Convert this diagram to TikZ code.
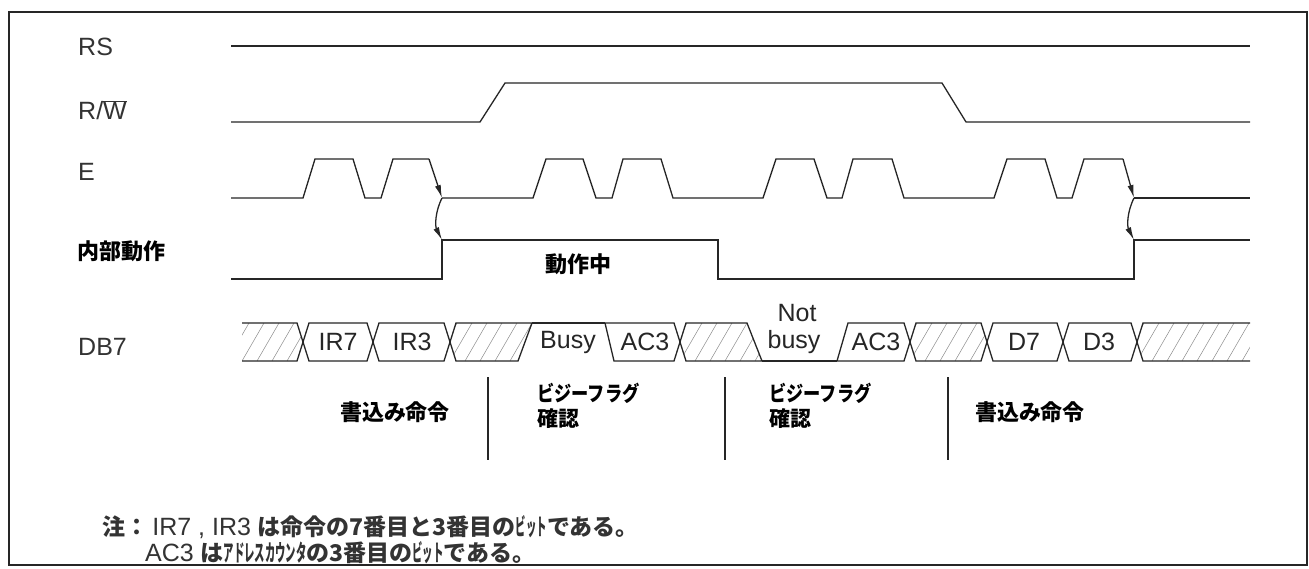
\documentclass[tikz,border=0pt]{standalone}
\usepackage{fontspec}
\setmainfont{Liberation Sans}
\newfontfamily\jp{Noto Sans CJK JP}[RawFeature=+palt]
\newfontfamily\jpw{Noto Sans CJK JP}
\newfontfamily\jpn{Noto Sans CJK JP}[FakeStretch=0.45]
\newfontfamily\jpm{Noto Sans CJK JP}[FakeStretch=0.82]
\newcommand\hkana[1]{{\jpn\bfseries #1}}
\newcommand\mkana[1]{{\jpm\bfseries #1}}
\newcommand\jnote[1]{{\jpw\bfseries\fontsize{23}{27}\selectfont #1}}
\usetikzlibrary{arrows.meta}
\newcommand\hatchin[2]{%
  \begin{scope}
    \clip #1;
    \foreach \k in {-3,...,9} \draw[hatchline] ({#2+15*\k},361) -- ++(22,-38);
  \end{scope}}
\begin{document}
\begin{tikzpicture}[x=1pt,y=-1pt,
  wave/.style={line width=1.3pt, draw=black!85, line join=miter},
  hatchline/.style={line width=0.5pt, draw=black!45},
  lbl/.style={anchor=west, inner sep=0, font=\fontsize{25}{29}\selectfont, text=black!80},
  jlbl/.style={inner sep=0, font=\jp\bfseries\fontsize{22}{26}\selectfont},
  bustext/.style={inner sep=0, font=\fontsize{25}{29}\selectfont, text=black!85},
  sig/.style={wave, -{Latex[length=13pt,width=6pt]}},
  divider/.style={line width=1.2pt, draw=black!85},
  note/.style={anchor=west, inner sep=0, font=\fontsize{25}{29}\selectfont, text=black!80}
]
\useasboundingbox (0,0) rectangle (1309,569);
\fill[white] (0,0) rectangle (1309,569);
\draw[line width=1.2pt, draw=black!85] (9,12) rectangle (1307,565);

% signal labels
\node[lbl] (lRS) at (78,47) {RS};
\node[lbl] (lRW) at (78,110) {R/$\overline{\mbox{W}}$};
\node[lbl] (lE) at (78,172) {E};
\node[jlbl, anchor=west] (lInt) at (77,251) {内部動作};
\node[lbl] (lDB) at (78,347) {DB7};

% RS
\draw[wave] (231,46) -- (1250,46);
% R/W
\draw[wave] (231,122) -- (480,122) -- (505,83) -- (942,83) -- (966,122) -- (1250,122);

% E
\coordinate (ea) at (429,159);
\coordinate (e1) at (442,198);
\coordinate (eb) at (1123,159);
\coordinate (e2) at (1134,198);
\draw[wave] (231,198) -- (303,198) -- (315,159) -- (353,159) -- (365,198) -- (381,198) -- (393,159) -- (ea);
\draw[sig] (ea) -- (e1);
\draw[wave] (e1) -- (533,198) -- (546,159) -- (583,159) -- (596,198) -- (612,198) -- (623,159) -- (661,159) -- (673,198)
  -- (763,198) -- (776,159) -- (814,159) -- (827,198) -- (842,198) -- (853,159) -- (892,159) -- (904,198)
  -- (994,198) -- (1007,159) -- (1045,159) -- (1057,198) -- (1072,198) -- (1084,159) -- (eb);
\draw[sig] (eb) -- (e2);
\draw[wave] (e2) -- (1250,198);

% internal operation
\coordinate (i1) at (442,240);
\coordinate (i2) at (1134,240);
\draw[wave] (231,279) -- (442,279) -- (i1) -- (718,240) -- (718,279) -- (1134,279) -- (i2) -- (1250,240);
\draw[sig] (e1) .. controls (435,212) and (435,226) .. (i1);
\draw[sig] (e2) .. controls (1127,212) and (1127,226) .. (i2);
\node[jlbl] (busyop) at (578,264) {動作中};

% DB7 bus
\hatchin{(242,323) -- (297,323) -- (303,342) -- (297,361) -- (242,361) -- cycle}{242}
\draw[wave] (242,323) -- (297,323) -- (303,342) -- (297,361) -- (242,361);
\draw[wave] (303,342) -- (309,323) -- (367,323) -- (373,342) -- (367,361) -- (309,361) -- cycle;
\draw[wave] (373,342) -- (379,323) -- (444,323) -- (450,342) -- (444,361) -- (379,361) -- cycle;
\hatchin{(450,342) -- (456,323) -- (532,323) -- (518,361) -- (456,361) -- cycle}{450}
\draw[wave] (450,342) -- (456,323) -- (532,323) -- (518,361) -- (456,361) -- cycle;
\draw[wave] (532,323) -- (605,323);
\draw[wave] (605,323) -- (674,323) -- (680,342) -- (674,361) -- (614,361) -- cycle;
\hatchin{(680,342) -- (686,323) -- (747,323) -- (762,361) -- (686,361) -- cycle}{680}
\draw[wave] (680,342) -- (686,323) -- (747,323) -- (762,361) -- (686,361) -- cycle;
\draw[wave] (762,361) -- (837,361);
\draw[wave] (837,361) -- (848,323) -- (904,323) -- (910,342) -- (904,361) -- cycle;
\hatchin{(910,342) -- (916,323) -- (981,323) -- (987,342) -- (981,361) -- (916,361) -- cycle}{910}
\draw[wave] (910,342) -- (916,323) -- (981,323) -- (987,342) -- (981,361) -- (916,361) -- cycle;
\draw[wave] (987,342) -- (993,323) -- (1057,323) -- (1063,342) -- (1057,361) -- (993,361) -- cycle;
\draw[wave] (1063,342) -- (1069,323) -- (1131,323) -- (1137,342) -- (1131,361) -- (1069,361) -- cycle;
\hatchin{(1137,342) -- (1143,323) -- (1250,323) -- (1250,361) -- (1143,361) -- cycle}{1137}
\draw[wave] (1250,323) -- (1143,323) -- (1137,342) -- (1143,361) -- (1250,361);

\node[bustext] (tIR7) at (338,342) {IR7};
\node[bustext] (tIR3) at (412,342) {IR3};
\node[bustext] (tBusy) at (568,342) {Busy};
\node[bustext] (tAC3a) at (645,342) {AC3};
\node[bustext] (tNot) at (797,313) {Not};
\node[bustext] (tbusy) at (794,342) {busy};
\node[bustext] (tAC3b) at (876,342) {AC3};
\node[bustext] (tD7) at (1024,342) {D7};
\node[bustext] (tD3) at (1099,342) {D3};

% phase labels
\coordinate (d1a) at (488,377); \coordinate (d1b) at (488,460);
\coordinate (d2a) at (725,377); \coordinate (d2b) at (725,460);
\coordinate (d3a) at (948,377); \coordinate (d3b) at (948,460);
\draw[divider] (d1a) -- (d1b);
\draw[divider] (d2a) -- (d2b);
\draw[divider] (d3a) -- (d3b);
\node[jlbl, anchor=west] (p1) at (340,412) {書込み命令};
\node[jlbl, anchor=north west, align=left, font=\jp\bfseries\fontsize{21}{25}\selectfont] (p2) at (537,383) {\mkana{ビジーフラグ}\\確認};
\node[jlbl, anchor=north west, align=left, font=\jp\bfseries\fontsize{21}{25}\selectfont] (p3) at (769,383) {\mkana{ビジーフラグ}\\確認};
\node[jlbl, anchor=west] (p4) at (975,412) {書込み命令};

% notes
\node[note] (n1) at (102,527)
  {\jnote{注：}\,IR7 , IR3 \jnote{は命令の7番目と3番目の\hkana{ビット}である。}};
\node[note] (n2) at (145,553)
  {AC3 \jnote{は\hkana{アドレスカウンタ}の3番目の\hkana{ビット}である。}};
\end{tikzpicture}
\end{document}
